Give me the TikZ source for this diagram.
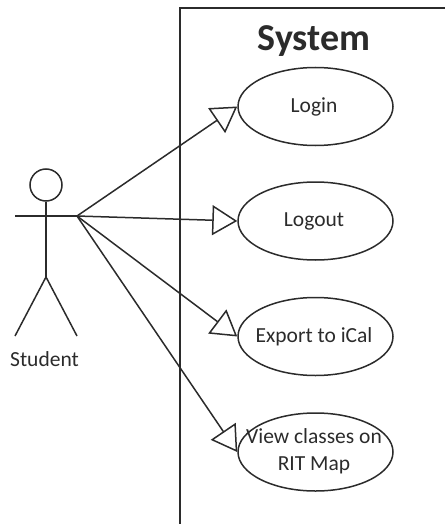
\documentclass[tikz,border=0pt]{standalone}
\usepackage{fontspec}
\setmainfont{Carlito}
\usetikzlibrary{shapes.geometric,arrows.meta}
\definecolor{ink}{HTML}{2B2B2B}
\tikzset{
  lineart/.style={draw=ink,line width=1.5pt},
  usecase/.style={ellipse,lineart,minimum width=155pt,minimum height=78pt,inner sep=0pt},
  uselabel/.style={font=\fontsize{21.5}{27}\selectfont,text=ink,align=center,inner sep=0pt},
  assoc/.style={lineart,-{Triangle[open,length=25pt,width=30pt,line width=1.5pt]}},
}
\begin{document}
\begin{tikzpicture}[x=1pt,y=-1pt]
\useasboundingbox (0,0) rectangle (445,524);
\coordinate (frameB) at (180,524);
\coordinate (frameT) at (180,8);
\coordinate (frameR) at (445,8);
\draw[lineart] (frameB) -- (frameT) -- (frameR);
\node[font=\bfseries\fontsize{38}{42}\selectfont,text=ink,inner sep=0pt] (title) at (314,41) {System};
\node[usecase] (login) at (315.5,106.5) {};
\node[uselabel] (loginT) at (314,106.5) {Login};
\node[usecase] (logout) at (315.5,221) {};
\node[uselabel] (logoutT) at (314,221) {Logout};
\node[usecase] (export) at (315.5,336.5) {};
\node[uselabel] (exportT) at (314,336.5) {Export to iCal};
\node[usecase] (view) at (315.5,452) {};
\node[uselabel] (viewT) at (314,451.5) {View classes on\\RIT Map};
\node[circle,lineart,minimum size=32pt,inner sep=0pt] (head) at (46,185) {};
\coordinate (handL) at (15,216);
\coordinate (handR) at (77,216);
\coordinate (hip) at (46,277);
\coordinate (footL) at (15,336);
\coordinate (footR) at (77,336);
\draw[lineart] (head.south) -- (hip);
\draw[lineart] (handL) -- (handR);
\draw[lineart,line join=miter] (footL) -- (hip) -- (footR);
\node[font=\fontsize{21.5}{24}\selectfont,text=ink,inner sep=0pt] (student) at (44.5,359) {Student};
\draw[assoc] (handR) -- (login.west);
\draw[assoc] (handR) -- (logout.west);
\draw[assoc] (handR) -- (export.west);
\draw[assoc] (handR) -- (view.west);
\end{tikzpicture}
\end{document}
